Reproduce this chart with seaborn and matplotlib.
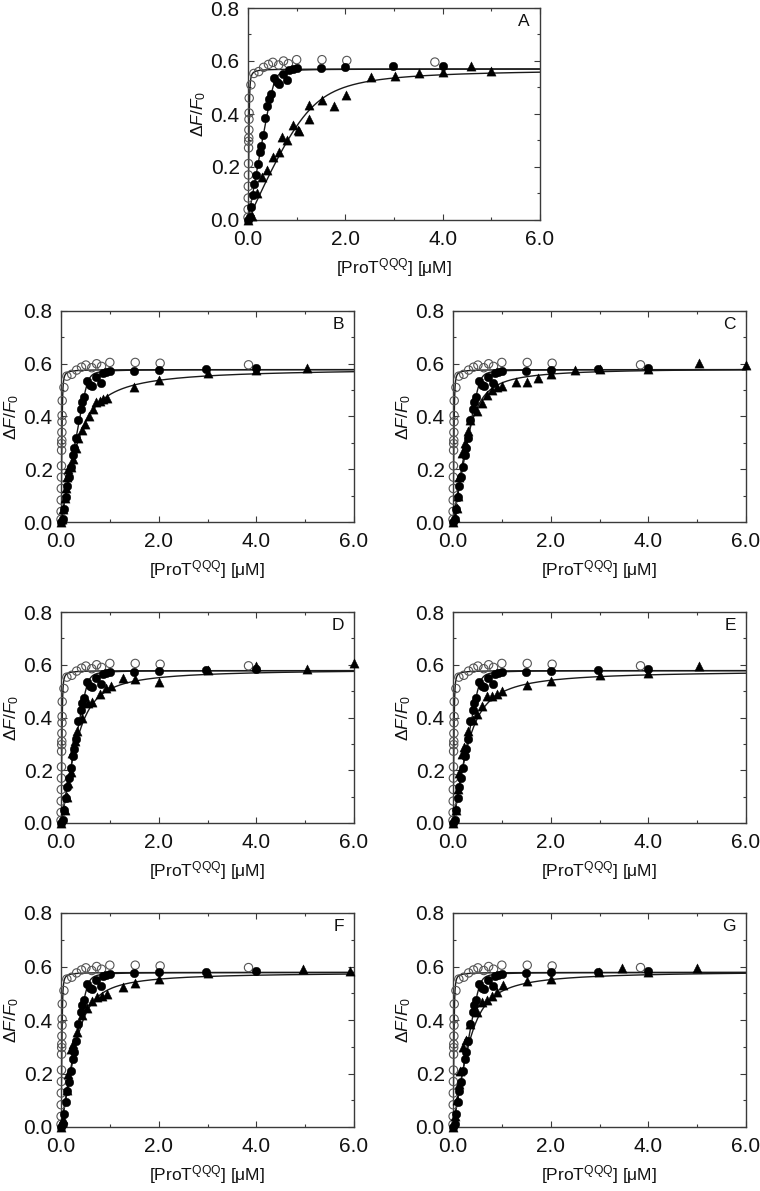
import numpy as np
import pandas as pd
import matplotlib
matplotlib.use("Agg")
import matplotlib.pyplot as plt
from matplotlib.ticker import MultipleLocator, FormatStrFormatter
import seaborn as sns

# ---------------- data ----------------
# open circles (shared by all panels)
open_x = [0.0, 0.002, 0.004, 0.006, 0.008, 0.010, 0.012, 0.014, 0.016, 0.018, 0.020, 0.022, 0.025,
          0.06, 0.12, 0.22, 0.32, 0.42, 0.51, 0.63, 0.73, 0.83, 1.0, 1.52, 2.03, 3.84]
open_y = [0.01, 0.04, 0.083, 0.127, 0.17, 0.213, 0.272, 0.297, 0.31, 0.34, 0.38, 0.404, 0.46,
          0.51, 0.553, 0.56, 0.576, 0.587, 0.595, 0.585, 0.6, 0.59, 0.605, 0.605, 0.602, 0.596]

# filled circles (shared by all panels)
fill_x = [0.0, 0.04, 0.07, 0.1, 0.12, 0.16, 0.2, 0.24, 0.26, 0.3, 0.35, 0.4, 0.44, 0.48, 0.54,
          0.6, 0.63, 0.71, 0.81, 0.85, 0.92, 1.0, 1.5, 2.0, 2.97, 4.0]
fill_y = [0.0, 0.01, 0.05, 0.095, 0.135, 0.17, 0.21, 0.255, 0.28, 0.32, 0.385, 0.43, 0.455, 0.475,
          0.534, 0.52, 0.515, 0.55, 0.528, 0.565, 0.57, 0.572, 0.574, 0.578, 0.58, 0.582]

# triangles, one series per panel
tri_A_x = [0.0, 0.08, 0.18, 0.29, 0.39, 0.51, 0.63, 0.70, 0.81, 0.92, 1.02, 1.05, 1.26, 1.26,
           1.52, 1.76, 2.01, 2.52, 3.02, 3.52, 4.01, 4.58, 4.99]
tri_A_y = [0.0, 0.015, 0.10, 0.163, 0.188, 0.238, 0.255, 0.313, 0.30, 0.357, 0.339, 0.336, 0.382,
           0.433, 0.454, 0.429, 0.47, 0.54, 0.542, 0.554, 0.56, 0.58, 0.564]
tri_B_x = [0.0, 0.02, 0.05, 0.08, 0.1, 0.12, 0.15, 0.2, 0.25, 0.3, 0.34, 0.42, 0.5, 0.58, 0.65,
           0.72, 0.8, 0.87, 0.95, 1.5, 2.0, 3.0, 4.0, 5.03]
tri_B_y = [0.0, 0.01, 0.05, 0.09, 0.13, 0.17, 0.2, 0.21, 0.24, 0.28, 0.32, 0.35, 0.37, 0.40, 0.43,
           0.455, 0.46, 0.465, 0.47, 0.51, 0.54, 0.565, 0.575, 0.585]
tri_C_x = [0.0, 0.04, 0.08, 0.1, 0.13, 0.18, 0.25, 0.31, 0.35, 0.49, 0.59, 0.7, 0.8, 0.9, 1.0,
           1.28, 1.52, 1.75, 2.0, 2.5, 3.02, 4.0, 5.03, 5.99]
tri_C_y = [0.0, 0.02, 0.053, 0.1, 0.17, 0.26, 0.3, 0.345, 0.387, 0.42, 0.452, 0.48, 0.5, 0.51, 0.515,
           0.53, 0.53, 0.545, 0.56, 0.575, 0.58, 0.58, 0.603, 0.595]
tri_D_x = [0.0, 0.08, 0.12, 0.15, 0.2, 0.22, 0.28, 0.33, 0.44, 0.56, 0.63, 0.8, 0.92, 1.02, 1.26,
           1.52, 2.01, 3.02, 4.0, 5.03, 6.0]
tri_D_y = [0.0, 0.05, 0.1, 0.15, 0.195, 0.265, 0.31, 0.35, 0.40, 0.455, 0.46, 0.49, 0.51, 0.52, 0.55,
           0.545, 0.535, 0.58, 0.595, 0.583, 0.606]
tri_E_x = [0.0, 0.07, 0.1, 0.12, 0.18, 0.22, 0.3, 0.4, 0.49, 0.59, 0.7, 0.8, 0.9, 1.0, 1.52, 2.0,
           3.02, 4.0, 5.03]
tri_E_y = [0.0, 0.05, 0.13, 0.19, 0.26, 0.29, 0.35, 0.39, 0.415, 0.445, 0.48, 0.483, 0.49, 0.5,
           0.525, 0.54, 0.56, 0.57, 0.595]
tri_F_x = [0.0, 0.05, 0.12, 0.15, 0.2, 0.25, 0.33, 0.42, 0.54, 0.64, 0.74, 0.83, 0.94, 1.26, 1.52,
           2.01, 3.02, 4.96, 5.92]
tri_F_y = [0.0, 0.03, 0.14, 0.2, 0.29, 0.31, 0.356, 0.42, 0.444, 0.47, 0.485, 0.49, 0.496, 0.525,
           0.538, 0.553, 0.575, 0.59, 0.584]
tri_G_x = [0.0, 0.05, 0.08, 0.12, 0.15, 0.2, 0.27, 0.35, 0.49, 0.59, 0.7, 0.8, 0.9, 1.02, 1.52,
           2.0, 2.98, 3.46, 4.0, 5.0]
tri_G_y = [0.0, 0.04, 0.1, 0.16, 0.21, 0.3, 0.325, 0.386, 0.43, 0.468, 0.475, 0.49, 0.503, 0.53,
           0.547, 0.553, 0.58, 0.593, 0.578, 0.593]

panel_letters = ["A", "B", "C", "D", "E", "F", "G"]
tri_x = [tri_A_x, tri_B_x, tri_C_x, tri_D_x, tri_E_x, tri_F_x, tri_G_x]
tri_y = [tri_A_y, tri_B_y, tri_C_y, tri_D_y, tri_E_y, tri_F_y, tri_G_y]

# fit parameters (Fmax, [protein], Kd) of the quadratic binding curves
open_fit = {"A": (0.570, 0.03, 0.002), "other": (0.578, 0.03, 0.002)}
fill_fit = {"A": (0.570, 0.55, 0.004), "other": (0.578, 0.55, 0.004)}
tri_fmax = [0.572, 0.585, 0.585, 0.585, 0.580, 0.580, 0.585]
tri_prot = [1.3, 0.35, 0.40, 0.40, 0.35, 0.40, 0.40]
tri_kd = [0.12, 0.15, 0.07, 0.10, 0.12, 0.08, 0.10]

x_ticks = [0.0, 2.0, 4.0, 6.0]
y_ticks = [0.0, 0.2, 0.4, 0.6, 0.8]


def binding(L, fmax, P, kd):
    b = P + L + kd
    return fmax * (b - np.sqrt(b * b - 4 * P * L)) / (2 * P)


# ---------------- styling ----------------
sns.set_style("ticks")
plt.rcParams["font.family"] = ["Liberation Sans", "DejaVu Sans"]
plt.rcParams["mathtext.fontset"] = "custom"
plt.rcParams["mathtext.rm"] = "Liberation Sans"
plt.rcParams["mathtext.it"] = "Liberation Sans:italic"
plt.rcParams["mathtext.bf"] = "Liberation Sans:bold"

fig = plt.figure(figsize=(7.6, 11.91), dpi=100)
W, H = 760.0, 1191.0
# (left, top, right, bottom) in pixels
boxes = [
    (248, 8, 540, 220),
    (61, 311, 354, 522),
    (453, 311, 746, 522),
    (61, 612, 354, 823),
    (453, 612, 746, 823),
    (61, 913, 354, 1127),
    (453, 913, 746, 1127),
]

grid = np.concatenate([np.linspace(0, 0.3, 600), np.linspace(0.3, 6.0, 400)[1:]])
line_col = "#1a1a1a"
frame_col = "#3a3a3a"

for i, (l, t, r, b) in enumerate(boxes):
    ax = fig.add_axes([l / W, 1 - b / H, (r - l) / W, (b - t) / H])
    key = "A" if i == 0 else "other"

    # fitted curves
    for (fm, P, kd) in [open_fit[key], fill_fit[key], (tri_fmax[i], tri_prot[i], tri_kd[i])]:
        sns.lineplot(x=grid, y=binding(grid, fm, P, kd), ax=ax, color=line_col,
                     lw=1.0, sort=False, estimator=None, zorder=2)

    # data points
    sns.scatterplot(x=open_x, y=open_y, ax=ax, marker="o", s=36, facecolor="none",
                    edgecolor="#555555", linewidth=0.8, zorder=3, clip_on=False)
    sns.scatterplot(x=fill_x, y=fill_y, ax=ax, marker="o", s=38, color="black",
                    edgecolor="black", linewidth=0.3, zorder=4, clip_on=False)
    sns.scatterplot(x=tri_x[i], y=tri_y[i], ax=ax, marker="^", s=44, color="black",
                    edgecolor="black", linewidth=0.3, zorder=4, clip_on=False)

    ax.set_xlim(0, 6)
    ax.set_ylim(0, 0.8)
    ax.set_xticks(x_ticks)
    ax.set_yticks(y_ticks)
    ax.xaxis.set_minor_locator(MultipleLocator(1.0))
    ax.yaxis.set_minor_locator(MultipleLocator(0.1))
    ax.xaxis.set_major_formatter(FormatStrFormatter("%.1f"))
    ax.yaxis.set_major_formatter(FormatStrFormatter("%.1f"))
    ax.tick_params(which="both", direction="in", top=True, right=True,
                   color=frame_col, width=0.8)
    ax.tick_params(which="major", length=4.5, labelsize=15, labelcolor="#111111")
    ax.tick_params(axis="x", which="major", pad=7)
    ax.tick_params(axis="y", which="major", pad=6)
    ax.tick_params(which="minor", length=2.5)
    for sp in ax.spines.values():
        sp.set_visible(True)
        sp.set_color(frame_col)
        sp.set_linewidth(1.0)

    ax.set_xlabel(r"[ProT$^{\mathrm{QQQ}}$] [μM]", fontsize=12.5, labelpad=5, color="#111111")
    ax.set_ylabel(r"$\mathit{ΔF/F_0}$", fontsize=12.5, labelpad=2, color="#111111")
    ax.text(0.965, 0.972, panel_letters[i], transform=ax.transAxes, ha="right", va="top",
            fontsize=12.5, color="#111111")

fig.savefig("out.png", dpi=100)
